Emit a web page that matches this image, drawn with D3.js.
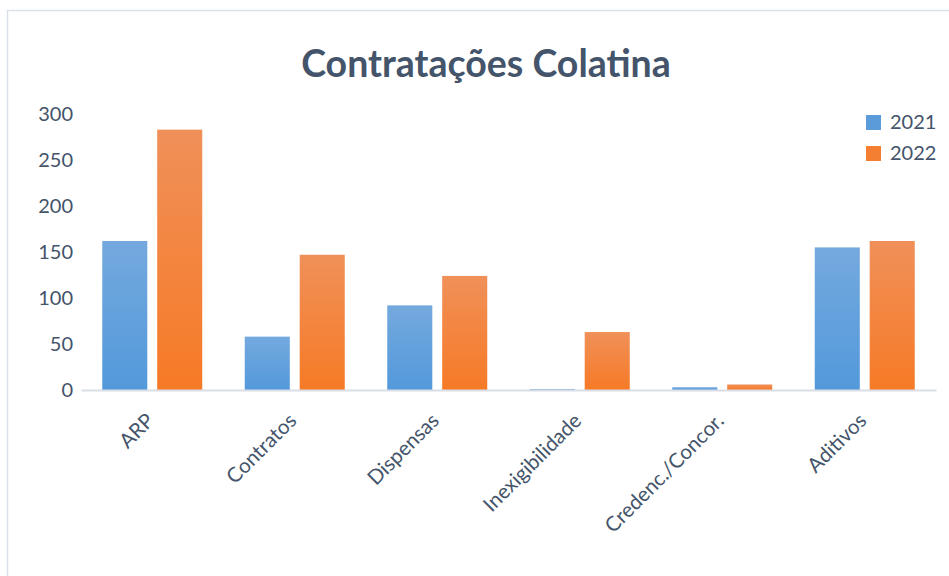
<!DOCTYPE html>
<html><head><meta charset="utf-8">
<script src="https://cdn.jsdelivr.net/npm/d3@7"></script>
<style>body{margin:0;background:#fff}svg{display:block}</style>
</head><body>
<script>
const categories = ["ARP","Contratos","Dispensas","Inexigibilidade","Credenc./Concor.","Aditivos"];
const seriesNames = ["2021","2022"];
const values2021 = [162, 58, 92, 1, 3, 155];
const values2022 = [283, 147, 124, 63, 6, 162];
const yTicks = [0,50,100,150,200,250,300];

const W = 949, H = 576;
const svg = d3.select("body").append("svg").attr("width", W).attr("height", H);
const defs = svg.append("defs");
const grads = [["g2021","#74a9de","#5399db"],["g2022","#f09059","#f67a26"]];
grads.forEach(([id,top,bot])=>{
  const g = defs.append("linearGradient").attr("id",id).attr("x1",0).attr("y1",0).attr("x2",0).attr("y2",1);
  g.append("stop").attr("offset","0%").attr("stop-color",top);
  g.append("stop").attr("offset","100%").attr("stop-color",bot);
});
const fills = ["url(#g2021)","url(#g2022)"];
const legendFills = ["#5b9bd9","#f47f33"];

// frame
svg.append("rect").attr("x",7.5).attr("y",10.5).attr("width",W).attr("height",H)
  .attr("fill","#fff").attr("stroke","#dbe1e8").attr("stroke-width",1.5);

const font = "Lato, 'Open Sans', sans-serif";
const color = "#44546a";

svg.append("text").attr("x",486).attr("y",77).attr("text-anchor","middle")
  .attr("font-family",font).attr("font-weight","bold").attr("font-size",37.5)
  .attr("fill",color).text("Contratações Colatina");

const x0 = d3.scaleBand().domain(categories).range([81,936]).paddingInner(0).paddingOuter(0);
const y = d3.scaleLinear().domain([0,300]).range([390,114]);
const x1 = d3.scaleBand().domain(seriesNames).range([0, 100]).paddingInner(0.18);
const groupOffset = (x0.bandwidth()-100)/2;

// y axis labels
const yAxis = d3.axisLeft(y).tickValues(yTicks).tickSize(0).tickPadding(0);
const ya = svg.append("g").attr("transform","translate(73,0)").call(yAxis);
ya.select(".domain").remove();
ya.selectAll("text").attr("font-family",font).attr("font-size",20).attr("fill",color);

// bars
const data = categories.map((c,i)=>({c, v:[values2021[i], values2022[i]]}));
const groups = svg.append("g").selectAll("g").data(data).join("g")
  .attr("transform", d=>`translate(${x0(d.c)+groupOffset},0)`);
groups.selectAll("rect").data(d=>d.v.map((v,j)=>({v,j}))).join("rect")
  .attr("x", d=>x1(seriesNames[d.j]))
  .attr("width", x1.bandwidth())
  .attr("y", d=>y(d.v))
  .attr("height", d=>y(0)-y(d.v))
  .attr("fill", d=>fills[d.j]);

// x axis
const xAxis = d3.axisBottom(x0).tickSize(0).tickPadding(0);
const xa = svg.append("g").attr("transform","translate(0,390)").call(xAxis);
xa.select(".domain").attr("stroke","#d9dee6").attr("stroke-width",2);
xa.selectAll("text").attr("font-family",font).attr("font-size",20.5).attr("fill",color)
  .attr("text-anchor","end").attr("dy",null).attr("y",0)
  .attr("transform","translate(3,32) rotate(-45)");

// legend
const lg = svg.append("g").selectAll("g").data(seriesNames).join("g")
  .attr("transform",(d,i)=>`translate(866,${115+i*31})`);
lg.append("rect").attr("width",15).attr("height",15).attr("fill",(d,i)=>legendFills[i]);
lg.append("text").attr("x",24).attr("y",14).attr("font-family",font).attr("font-size",20)
  .attr("fill",color).text(d=>d);
</script>
</body></html>
